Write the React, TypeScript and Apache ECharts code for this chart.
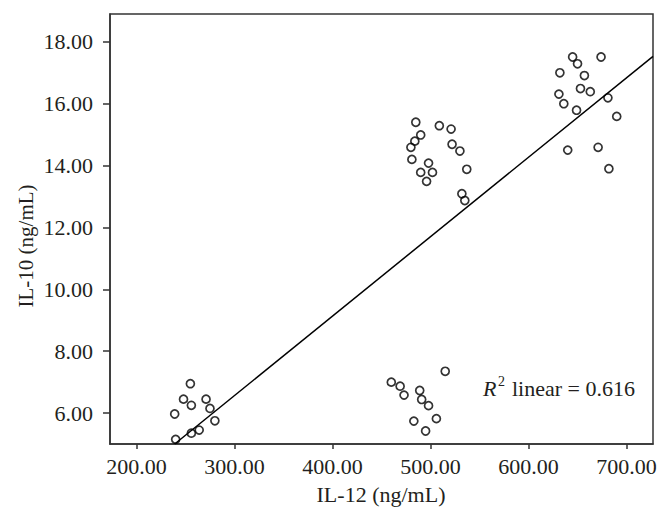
import React, { useEffect, useRef } from "react";
import * as echarts from "echarts";

// IL-12 (x) and IL-10 (y) per sample
const il12: number[] = [
  255, 248, 256, 271, 275, 239, 280, 264, 256, 240,
  460, 469, 473, 489, 491, 498, 506, 483, 495, 515,
  485, 509, 521, 490, 484, 480, 522, 530, 481, 498, 490, 502, 496, 537, 532, 535,
  645, 650, 674, 632, 657, 631, 636, 653, 663, 681, 649, 690, 640, 671, 682,
];
const il10: number[] = [
  6.95, 6.45, 6.25, 6.45, 6.15, 5.97, 5.75, 5.45, 5.35, 5.15,
  7.0, 6.87, 6.58, 6.73, 6.44, 6.24, 5.82, 5.74, 5.42, 7.35,
  15.4, 15.29, 15.18, 14.99, 14.79, 14.59, 14.69, 14.47, 14.2, 14.08, 13.78, 13.78, 13.49, 13.88, 13.09, 12.87,
  17.51, 17.29, 17.51, 17.0, 16.91, 16.31, 16.0, 16.49, 16.39, 16.19, 15.79, 15.59, 14.5, 14.59, 13.9,
];

// fit line end points
const fitX: number[] = [239, 727];
const fitY: number[] = [5.0, 17.53];

const xTicks: number[] = [200, 300, 400, 500, 600, 700];
const yTicks: number[] = [6, 8, 10, 12, 14, 16, 18];

const xTitle = "IL-12 (ng/mL)";
const yTitle = "IL-10 (ng/mL)";
const r2Label = "linear = 0.616";

const FONT = "'Liberation Serif', 'DejaVu Serif', serif";
const TEXT = "#231f20";
const AXIS = "#333333";

export default function App() {
  const ref = useRef<HTMLDivElement>(null);
  useEffect(() => {
    if (!ref.current) return;
    const chart = echarts.init(ref.current, undefined, { renderer: "svg" });
    const points = il12.map((x, i) => [x, il10[i]]);
    const fit = fitX.map((x, i) => [x, fitY[i]]);
    chart.setOption({
      animation: false,
      backgroundColor: "#ffffff",
      grid: {
        left: 110,
        top: 14,
        right: 15,
        bottom: 83,
        show: true,
        borderColor: AXIS,
        borderWidth: 1.5,
        backgroundColor: "transparent",
        outerBoundsMode: "none",
      },
      xAxis: {
        type: "value",
        min: 173,
        max: 727,
        splitLine: { show: false },
        axisLine: { show: true, lineStyle: { color: AXIS, width: 1.5 } },
        axisTick: {
          show: true,
          customValues: xTicks,
          length: 5,
          lineStyle: { color: AXIS, width: 1.5 },
        },
        axisLabel: {
          customValues: xTicks,
          formatter: (v: number) => v.toFixed(2),
          color: TEXT,
          fontFamily: FONT,
          fontSize: 22,
          margin: 11,
        },
      },
      yAxis: {
        type: "value",
        min: 5.0,
        max: 18.9,
        splitLine: { show: false },
        axisLine: { show: true, lineStyle: { color: AXIS, width: 1.5 } },
        axisTick: {
          show: true,
          customValues: yTicks,
          length: 7,
          lineStyle: { color: AXIS, width: 1.5 },
        },
        axisLabel: {
          customValues: yTicks,
          formatter: (v: number) => v.toFixed(2),
          color: TEXT,
          fontFamily: FONT,
          fontSize: 22,
          margin: 17,
        },
      },
      series: [
        {
          type: "line",
          data: fit,
          symbol: "none",
          lineStyle: { color: "#000", width: 1.5 },
          silent: true,
          z: 1,
        },
        {
          type: "scatter",
          data: points,
          symbol: "circle",
          symbolSize: 8,
          itemStyle: { color: "rgba(255,255,255,0)", borderColor: "#000", borderWidth: 1.7 },
          z: 2,
        },
      ],
      graphic: [
        {
          type: "text",
          x: 381,
          y: 494,
          style: { text: xTitle, fill: TEXT, font: `22px ${FONT}`, textAlign: "center", textVerticalAlign: "middle" },
        },
        {
          type: "text",
          x: 26,
          y: 246,
          rotation: Math.PI / 2,
          style: { text: yTitle, fill: TEXT, font: `21px ${FONT}`, textAlign: "center", textVerticalAlign: "middle" },
        },
        {
          type: "text",
          x: 483,
          y: 388,
          style: { text: "R", fill: TEXT, font: `italic 22px ${FONT}`, textAlign: "left", textVerticalAlign: "middle" },
        },
        {
          type: "text",
          x: 498,
          y: 381,
          style: { text: "2", fill: TEXT, font: `14px ${FONT}`, textAlign: "left", textVerticalAlign: "middle" },
        },
        {
          type: "text",
          x: 512,
          y: 388,
          style: { text: r2Label, fill: TEXT, font: `22px ${FONT}`, textAlign: "left", textVerticalAlign: "middle" },
        },
      ],
    });
    return () => chart.dispose();
  }, []);
  return (
    <div
      ref={ref}
      style={{ position: "fixed", left: 0, top: 0, width: 668, height: 527 }}
    />
  );
}
